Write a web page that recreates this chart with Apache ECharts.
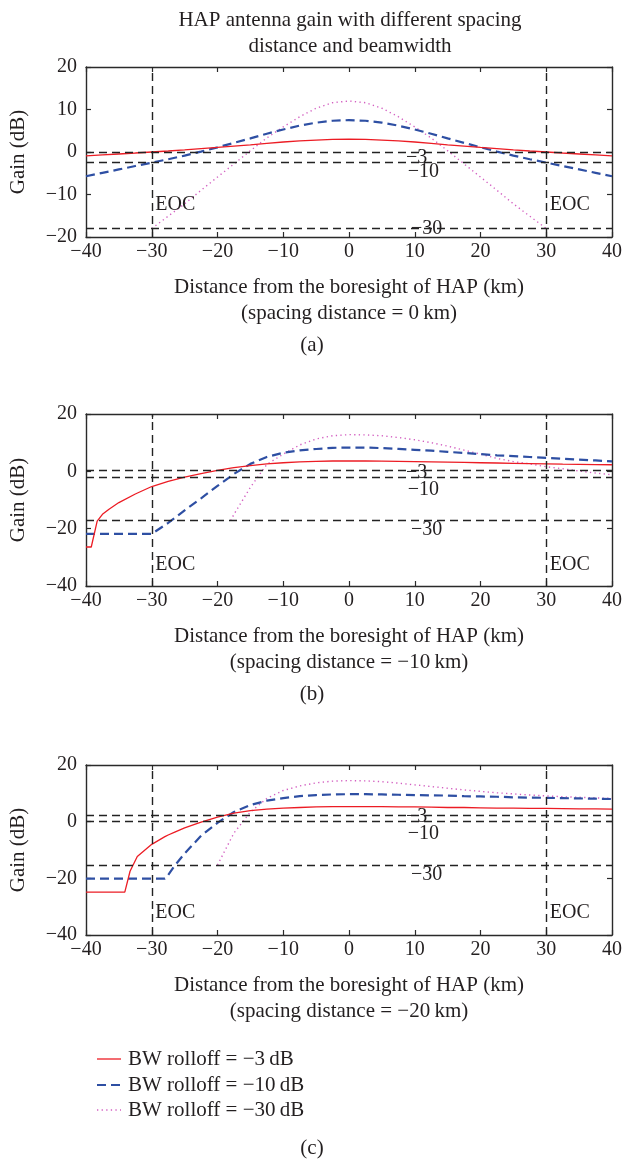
<!DOCTYPE html>
<html lang="en">
<head>
<meta charset="UTF-8">
<title>HAP antenna gain</title>
<script src="https://cdn.jsdelivr.net/npm/echarts@6/dist/echarts.min.js"></script>
<style>
    html, body { margin: 0; padding: 0; background: #fff; }
    #chart { width: 625px; height: 1161px; }
</style>
</head>
<body>
<div id="chart"></div>
<script>
// distance from boresight (km) and gain (dB)
const xA = [-40,-37.5,-35,-32.5,-30,-27.5,-25,-22.5,-20,-17.5,-15,-12.5,-10,-7.5,-5,-2.5,0,2.5,5,7.5,10,12.5,15,17.5,20,22.5,25,27.5,30,32.5,35,37.5,40];
const redA = [-0.93,-0.7,-0.47,-0.24,0,0.24,0.5,0.8,1.08,1.4,1.7,2.05,2.35,2.6,2.8,2.95,3,2.95,2.8,2.6,2.35,2.05,1.7,1.4,1.08,0.8,0.5,0.24,0,-0.24,-0.47,-0.7,-0.93];
const blueA = [-5.7,-4.9,-4.1,-3.3,-2.5,-1.7,-0.85,0.1,1.1,2.15,3.2,4.3,5.3,6.2,6.9,7.35,7.5,7.35,6.9,6.2,5.3,4.3,3.2,2.15,1.1,0.1,-0.85,-1.7,-2.5,-3.3,-4.1,-4.9,-5.7];
const magA = [null,null,null,null,-18,-15.1,-12.2,-9.0,-5.9,-2.8,0.3,3.3,5.9,8.3,10.3,11.6,12,11.6,10.3,8.3,5.9,3.3,0.3,-2.8,-5.9,-9.0,-12.2,-15.1,-18,null,null,null,null];

const xB = [-40,-39.2,-38.3,-37.5,-36.5,-35,-32.5,-30,-27.5,-25,-22.5,-20,-18,-17.5,-15,-12.5,-10,-7.5,-5,-2.5,0,2.5,5,7.5,10,12.5,15,17.5,20,22.5,25,27.5,30,32.5,35,37.5,40];
const redB = [-26.4,-26.4,-17.4,-15,-13.2,-10.9,-7.9,-5.3,-3.5,-2,-0.8,0.3,1.1,1.3,2,2.6,3,3.3,3.5,3.6,3.6,3.6,3.55,3.5,3.4,3.3,3.2,3.1,3,2.9,2.8,2.7,2.6,2.5,2.45,2.35,2.3];
const blueB = [-21.8,-21.8,-21.8,-21.8,-21.8,-21.8,-21.8,-21.8,-18,-13.6,-9.4,-5.1,-1.8,-0.9,2.6,5,6.5,7.3,7.8,8.2,8.3,8.3,8.1,7.8,7.5,7.2,6.8,6.4,6,5.6,5.3,5,4.7,4.4,4.1,3.8,3.5];
const magB = [null,null,null,null,null,null,null,null,null,null,null,null,-17.2,-15,-5.6,2.4,6,9.2,11.3,12.4,12.8,12.7,12.4,11.8,11,10,8.8,7.4,6,4.5,3.4,2.6,1.6,0.9,0.1,-0.6,-1.2];

const xC = [-40,-37.5,-35,-34.1,-33.3,-32.2,-30,-28,-27.5,-26.5,-25,-22.5,-20,-17.5,-15,-12.5,-10,-7.5,-5,-2.5,0,2.5,5,7.5,10,12.5,15,17.5,20,22.5,25,27.5,30,32.5,35,37.5,40];
const redC = [-24.9,-24.9,-24.9,-24.9,-17.5,-12.3,-8,-5.3,-4.7,-3.7,-2.2,-0.2,1.6,3,3.9,4.4,4.8,5,5.2,5.3,5.3,5.3,5.3,5.2,5.2,5.1,5,5,4.9,4.8,4.8,4.7,4.7,4.6,4.5,4.5,4.4];
const blueC = [-20.1,-20.1,-20.1,-20.1,-20.1,-20.1,-20.1,-20.1,-18.8,-15.5,-11.2,-5,-0.4,3.4,5.9,7.4,8.3,9,9.4,9.6,9.7,9.7,9.6,9.5,9.4,9.3,9.2,9,8.9,8.8,8.6,8.5,8.4,8.3,8.2,8.1,8];
const magC = [null,null,null,null,null,null,null,null,null,null,null,null,-15.3,-4,3.4,8.2,11,12.6,13.7,14.3,14.5,14.4,14.1,13.6,13,12.4,11.8,11.2,10.7,10.2,9.8,9.4,9.1,8.8,8.6,8.4,8.2];

// gain levels of the dashed reference lines and their tags
const refA = [0, -2.5, -18];
const refB = [0.4, -2, -17.2];
const refC = [2.2, 0.2, -15.4];
const refTags = ['\u22123', '\u221210', '\u221230'];
const refTagX = [10.3, 11.3, 11.8];
const eocX = [-30, 30];
const spacing = [0, -10, -20];

const names = ['BW rolloff = \u22123\u2009dB', 'BW rolloff = \u221210\u2009dB', 'BW rolloff = \u221230\u2009dB'];
const font = '"Liberation Serif", "DejaVu Serif", serif';
const ink = '#231f20';

// red solid, blue dashed, magenta dotted
const styles = [
    {color: '#ec1c24', width: 1.3, type: 'solid'},
    {color: '#2e4fa3', width: 2.2, type: [9, 5]},
    {color: '#d35fc1', width: 1.4, type: [1.3, 3.3]}
];

const minus = v => (v < 0 ? '\u2212' + (-v) : String(v));
const pairs = (xs, ys) => xs.map((x, i) => [x, ys[i]]);

const panels = [
    {x: xA, red: redA, blue: blueA, mag: magA, ref: refA, yMin: -20, yMax: 20, yStep: 10,
        top: 67, height: 170, tagOff: [6, 9, 0], eocOff: 32, tagY: 345},
    {x: xB, red: redB, blue: blueB, mag: magB, ref: refB, yMin: -40, yMax: 20, yStep: 20,
        top: 414, height: 172, tagOff: [3, 13, 9], eocOff: 21, tagY: 694},
    {x: xC, red: redC, blue: blueC, mag: magC, ref: refC, yMin: -40, yMax: 20, yStep: 20,
        top: 765, height: 170, tagOff: [1.5, 13, 9], eocOff: 22, tagY: 1148}
];
const panelTags = ['(a)', '(b)', '(c)'];

const axisLine = {show: true, onZero: false, lineStyle: {color: '#2a2a2a', width: 1.4}};
const axisTick = {show: true, inside: true, length: 5, lineStyle: {color: '#2a2a2a', width: 1.2}};

function textEl(t, x, y, size, align) {
    return {type: 'text', style: {text: t, x: x, y: y, font: size + 'px ' + font, fill: ink,
            textAlign: align, textVerticalAlign: 'middle', align: align, verticalAlign: 'middle'}};
}

let grid = [], xAxis = [], yAxis = [], series = [], graphic = [];

panels.forEach(function (p, k) {
    grid.push({left: 86, right: 10, top: p.top, height: p.height});
    let xBase = {type: 'value', gridIndex: k, min: -40, max: 40, interval: 10,
        axisLine: axisLine, axisTick: axisTick, splitLine: {show: false}};
    let yBase = {type: 'value', gridIndex: k, min: p.yMin, max: p.yMax, interval: p.yStep,
        axisLine: axisLine, axisTick: axisTick, splitLine: {show: false}};
    xAxis.push(Object.assign({}, xBase, {
        position: 'bottom',
        axisLabel: {formatter: minus, fontFamily: font, fontSize: 20, color: ink, margin: 5},
        name: 'Distance from the boresight of HAP (km)\n(spacing distance = ' + minus(spacing[k]) + '\u2009km)',
        nameLocation: 'middle', nameGap: 37,
        nameTextStyle: {fontFamily: font, fontSize: 21, color: ink, lineHeight: 26}
    }));
    xAxis.push(Object.assign({}, xBase, {position: 'top', axisLabel: {show: false}}));
    yAxis.push(Object.assign({}, yBase, {
        position: 'left',
        axisLabel: {formatter: minus, fontFamily: font, fontSize: 20, color: ink, margin: 9},
        name: 'Gain (dB)', nameLocation: 'middle', nameGap: 57,
        nameTextStyle: {fontFamily: font, fontSize: 21, color: ink}
    }));
    yAxis.push(Object.assign({}, yBase, {position: 'right', axisLabel: {show: false}}));

    let ax = {xAxisIndex: k * 2, yAxisIndex: k * 2};
    let tags = p.ref.map(function (v, i) {
        return {coord: [refTagX[i], v], label: {formatter: refTags[i], offset: [0, p.tagOff[i]]}};
    });
    eocX.forEach(function (v) {
        tags.push({coord: [v, p.yMin], label: {formatter: 'EOC', position: 'right', distance: 3, offset: [0, -p.eocOff]}});
    });

    [p.red, p.blue, p.mag].forEach(function (ys, i) {
        let s = Object.assign({
            name: names[i], type: 'line', data: pairs(p.x, ys), symbol: 'none',
            lineStyle: styles[i], itemStyle: {color: styles[i].color}, z: 3 - i
        }, ax);
        if (i === 0) {
            s.markLine = {
                silent: true, symbol: ['none', 'none'], label: {show: false},
                lineStyle: {color: '#222', type: [8, 5], width: 1.4},
                data: p.ref.map(v => ({yAxis: v})).concat(eocX.map(v => ({xAxis: v})))
            };
            s.markPoint = {
                silent: true, symbol: 'circle', symbolSize: 1, itemStyle: {color: 'rgba(0,0,0,0)'},
                label: {show: true, fontFamily: font, fontSize: 20, color: ink},
                data: tags
            };
        }
        series.push(s);
    });

    graphic.push(textEl(panelTags[k], 312, p.tagY, 21, 'center'));
});

// figure title
['HAP antenna gain with different spacing', 'distance and beamwidth'].forEach(function (t, i) {
    graphic.push(textEl(t, 350, 20 + i * 26, 21, 'center'));
});

// legend under panel (c)
const legendY = [1059, 1085, 1110];
names.forEach(function (n, i) {
    let st = styles[i];
    graphic.push({type: 'line', shape: {x1: 97, y1: legendY[i], x2: 121, y2: legendY[i]},
        style: {stroke: st.color, lineWidth: st.width, lineDash: st.type === 'solid' ? null : st.type}});
    graphic.push(textEl(n, 128, legendY[i], 21, 'left'));
});

let chart = echarts.init(document.getElementById('chart'));
chart.setOption({
    animation: false,
    backgroundColor: '#fff',
    grid: grid,
    xAxis: xAxis,
    yAxis: yAxis,
    graphic: graphic,
    series: series
});
</script>
</body>
</html>
